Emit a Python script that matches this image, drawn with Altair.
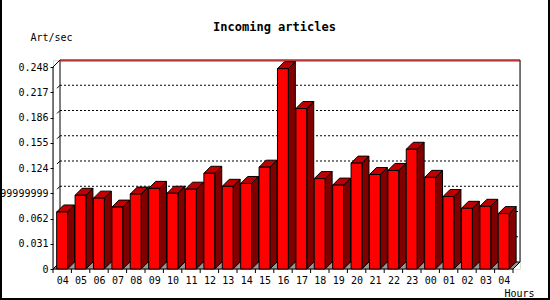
import altair as alt
import pandas as pd

# ---- data ----
hours = ["04", "05", "06", "07", "08", "09", "10", "11", "12", "13", "14", "15", "16",
         "17", "18", "19", "20", "21", "22", "23", "00", "01", "02", "03", "04"]
rates = [0.070, 0.0905, 0.087, 0.076, 0.092, 0.099, 0.093, 0.098, 0.1175, 0.1015,
         0.105, 0.125, 0.246, 0.197, 0.111, 0.103, 0.130, 0.116, 0.121, 0.147,
         0.1125, 0.089, 0.0745, 0.077, 0.068]
y_ticks = [0, 0.031, 0.062, 0.093, 0.124, 0.155, 0.186, 0.217, 0.248]
y_tick_labels = ["0", "0.031", "0.062", "0.09299999999", "0.124", "0.155", "0.186",
                 "0.217", "0.248"]

# ---- geometry / style ----
FONT = "DejaVu Sans Mono"
N = len(hours)
W, H = 467, 209            # plot area incl. 3D depth
FRONT_W, FRONT_H = 460, 202
DEPTH = 7                  # px
Y_TOP = 0.248
X_MAX = N * W / FRONT_W
Y_MAX = Y_TOP * H / FRONT_H
DX = DEPTH * N / FRONT_W
DY = DEPTH * Y_TOP / FRONT_H
PXY = Y_TOP / FRONT_H      # data units per px (y)
BL, BR = 0.2, 0.79         # bar front face within band

xs = alt.Scale(domain=[0, X_MAX], nice=False, zero=False)
ys = alt.Scale(domain=[0, Y_MAX], nice=False, zero=False)

label_map = "{" + ", ".join(f"'{t}': '{l}'" for t, l in zip(y_ticks, y_tick_labels)) + "}"
y_label_expr = label_map + "[datum.value + ''] || datum.label"
x_label_expr = "[" + ", ".join(f"'{h}'" for h in hours) + "][floor(datum.value)] || ''"

xa = alt.Axis(
    values=[i + 0.5 for i in range(N)], labelExpr=x_label_expr, labelAlign="center",
    labelFlush=False, labelOverlap=False, ticks=False, domain=False,
    grid=False, labelFont=FONT, labelFontSize=10, labelColor="black", labelPadding=6,
    title="Hours", titleFont=FONT, titleFontSize=10, titleFontWeight="normal",
    titleColor="black", titleAngle=0, titleAlign="left", titleBaseline="middle",
    titleX=451, titleY=24)
ya = alt.Axis(
    values=y_ticks, labelExpr=y_label_expr, labelFlush=False, labelOverlap=False,
    tickSize=3, tickColor="black", domain=False, grid=False, labelFont=FONT,
    labelFontSize=10, labelColor="black", labelPadding=2,
    title="Art/sec", titleFont=FONT, titleFontSize=10, titleFontWeight="normal",
    titleColor="black", titleAngle=0, titleAlign="left", titleBaseline="middle",
    titleX=-23, titleY=-23)


def X(f):
    return alt.X(f, scale=xs, axis=xa)


def Y(f):
    return alt.Y(f, scale=ys, axis=ya, stack=None)


front = pd.DataFrame({"i": range(N), "hour": hours, "v": rates})
front["l"] = front["i"] + BL
front["r"] = front["i"] + BR
front["z"] = 0.0

side_rows, top_rows = [], []
for i, v in enumerate(rates):
    side_rows.append({"i": i, "x": i + BR, "lo": 0.0, "hi": v})
    side_rows.append({"i": i, "x": i + BR + DX, "lo": DY, "hi": v + DY})
    top_rows.append({"i": i, "y": v, "xl": i + BL, "xr": i + BR})
    top_rows.append({"i": i, "y": v + DY, "xl": i + BL + DX, "xr": i + BR + DX})
side = pd.DataFrame(side_rows)
top = pd.DataFrame(top_rows)

floor = pd.DataFrame({"y": [0.0, DY], "xl": [0.0, DX], "xr": [N, N + DX]})

grid = pd.DataFrame({"y": [t + DY for t in y_ticks[1:-1]]})
grid["x"] = DX
grid["x2"] = X_MAX

frame = pd.DataFrame({
    "x": [DX, X_MAX, DX, 0.0, 0.0],
    "x2": [X_MAX, X_MAX, DX, 0.0, DX],
    "y": [Y_MAX, DY, DY, 0.0, Y_TOP],
    "y2": [Y_MAX, Y_MAX, Y_MAX, Y_TOP, Y_MAX],
})

slant = pd.DataFrame({"y": [t + DY for t in y_ticks]})
slant["y0"] = slant["y"] - 3 * PXY
slant["x"] = DX
slant["x0"] = DX - 3 * N / FRONT_W

xticks = pd.DataFrame({"x": list(range(N + 1))})
xticks["y"] = 0.0
xticks["y2"] = -4 * PXY

floor_l = alt.Chart(floor).mark_area(orient="horizontal", fill="#999999", stroke="black",
                                     strokeWidth=1).encode(
    y=Y("y:Q"), x=X("xl:Q"), x2="xr:Q")

grid_l = alt.Chart(grid).mark_rule(color="black", strokeWidth=1, strokeDash=[2, 2]).encode(
    y=Y("y:Q"), x=X("x:Q"), x2="x2:Q")

frame_l = alt.Chart(frame).mark_rule(color="black", strokeWidth=1).encode(
    x=X("x:Q"), x2="x2:Q", y=Y("y:Q"), y2="y2:Q")

red_top = alt.Chart(pd.DataFrame({"y": [Y_MAX], "x": [DX], "x2": [X_MAX]})).mark_rule(
    color="#ff0000", strokeWidth=1, yOffset=1).encode(
    y=Y("y:Q"), x=X("x:Q"), x2="x2:Q")

slant_l = alt.Chart(slant).mark_rule(color="black", strokeWidth=1).encode(
    x=X("x0:Q"), x2="x:Q", y=Y("y0:Q"), y2="y:Q")

xtick_l = alt.Chart(xticks).mark_rule(color="black", strokeWidth=1, clip=False).encode(
    x=X("x:Q"), y=Y("y:Q"), y2="y2:Q")

side_l = alt.Chart(side).mark_area(fill="#800000", stroke="black", strokeWidth=1).encode(
    x=X("x:Q"), y=Y("hi:Q"), y2="lo:Q", detail="i:N")

top_l = alt.Chart(top).mark_area(orient="horizontal", fill="#c00000", stroke="black",
                                 strokeWidth=1).encode(
    y=Y("y:Q"), x=X("xl:Q"), x2="xr:Q", detail="i:N")

front_l = alt.Chart(front).mark_rect(fill="#ff0000", stroke="black", strokeWidth=1).encode(
    x=X("l:Q"), x2="r:Q", y=Y("v:Q"), y2="z:Q")

border = alt.Chart(pd.DataFrame({"a": [0]})).mark_rule(color="black", strokeWidth=2,
                                                        clip=False)
border_l = border.encode(x=alt.value(-52), y=alt.value(-60), y2=alt.value(240))
border_r = border.encode(x=alt.value(496), y=alt.value(-60), y2=alt.value(240))
border_b = border.encode(x=alt.value(-53), x2=alt.value(497), y=alt.value(239))

chart = alt.layer(
    floor_l, grid_l, frame_l, red_top, slant_l, xtick_l, side_l, top_l, front_l,
    border_l, border_r, border_b,
).properties(
    width=W, height=H,
    padding={"left": 53, "top": 60, "right": 30, "bottom": 31},
    autosize=alt.AutoSizeParams(type="none"),
    title=alt.TitleParams("Incoming articles", font=FONT, fontSize=12, fontWeight="bold",
                          color="black", anchor="middle", dx=-12, dy=47,
                          baseline="bottom", offset=0),
).configure_view(stroke=None).configure(background="white")

chart.save("out.html", embed_options={"renderer": "svg", "actions": False})
